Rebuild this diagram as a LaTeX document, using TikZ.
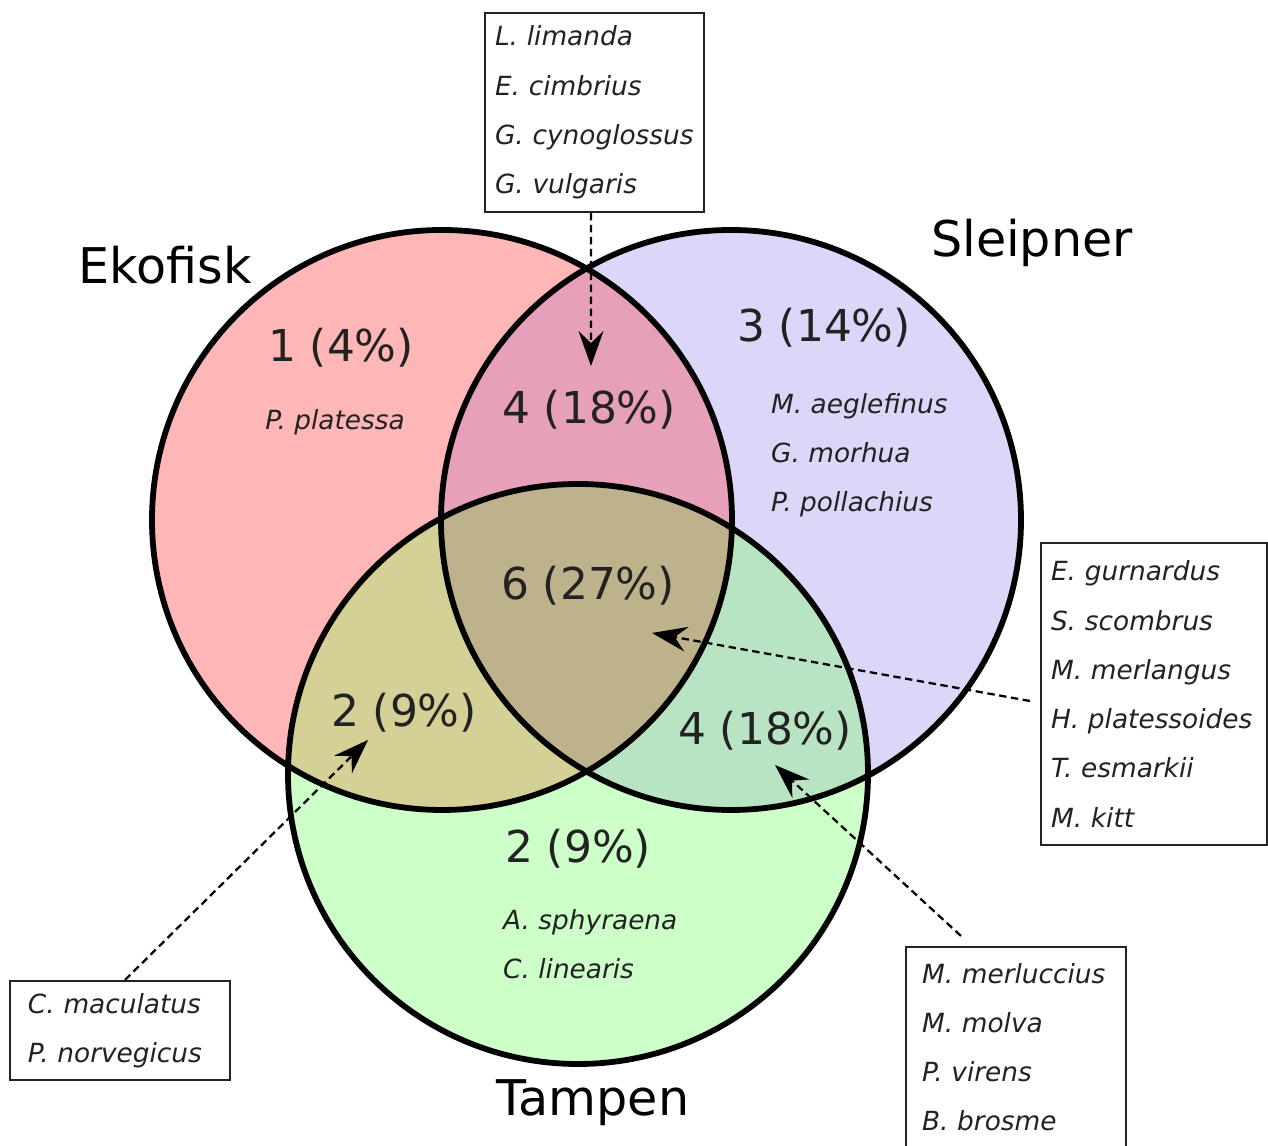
\documentclass[tikz,border=0pt]{standalone}
\usepackage{fontspec}
\setmainfont{DejaVu Sans}
\usetikzlibrary{arrows.meta}

\definecolor{ekored}{HTML}{FFB6B6}
\definecolor{sleipurple}{HTML}{DCD7F8}
\definecolor{tamgreen}{HTML}{CDFFC8}
\definecolor{ekosle}{HTML}{E6A0B9}
\definecolor{ekotam}{HTML}{D4D096}
\definecolor{sletam}{HTML}{B9E4C3}
\definecolor{allthree}{HTML}{BEB28C}
\definecolor{inkgray}{HTML}{222222}

\begin{document}
\begin{tikzpicture}[
    ring/.style={line width=3.3pt},
    species/.style={font=\fontsize{15}{28}\selectfont\itshape, align=left, text=inkgray},
    count/.style={font=\fontsize{25}{28}\selectfont, text=inkgray},
    site/.style={font=\fontsize{28}{32}\selectfont},
    listbox/.style={draw=inkgray, line width=1.2pt, species, inner ysep=0pt},
    pointer/.style={line width=1.3pt, dash pattern=on 4.2pt off 2.6pt,
        -{Stealth[length=7mm, width=5mm, inset=2.4mm]}}
]
    \useasboundingbox (0,0) rectangle (25.36,22.92);

    % circle centres
    \coordinate (eko) at (8.84,12.52);
    \coordinate (sle) at (14.62,12.52);
    \coordinate (tam) at (11.56,7.44);

    % fills
    \fill[ekored] (eko) circle (5.8);
    \fill[sleipurple] (sle) circle (5.8);
    \fill[tamgreen] (tam) circle (5.8);
    \begin{scope}
        \clip (eko) circle (5.8);
        \fill[ekosle] (sle) circle (5.8);
        \fill[ekotam] (tam) circle (5.8);
    \end{scope}
    \begin{scope}
        \clip (sle) circle (5.8);
        \fill[sletam] (tam) circle (5.8);
    \end{scope}
    \begin{scope}
        \clip (eko) circle (5.8);
        \clip (sle) circle (5.8);
        \fill[allthree] (tam) circle (5.8);
    \end{scope}

    % outlines
    \draw[ring] (eko) circle (5.8);
    \draw[ring] (sle) circle (5.8);
    \draw[ring] (tam) circle (5.8);

    % site names
    \node[site] (ekoname) at (3.3,17.62) {Ekofisk};
    \node[site] (slename) at (20.64,18.06) {Sleipner};
    \node[site] (tamname) at (11.86,0.86) {Tampen};

    % counts
    \node[count] (onlyeko) at (6.82,15.96) {1 (4\%)};
    \node[species] (onlyekosp) at (6.7,14.48) {P. platessa};
    \node[count] (ekosle) at (11.78,14.72) {4 (18\%)};
    \node[count] (onlysle) at (16.48,16.36) {3 (14\%)};
    \node[species, anchor=west] (onlyslesp) at (15.3,13.81) {M. aeglefinus\\G. morhua\\P. pollachius};
    \node[count] (all) at (11.76,11.2) {6 (27\%)};
    \node[count] (ekotam) at (8.08,8.66) {2 (9\%)};
    \node[count] (sletam) at (15.3,8.3) {4 (18\%)};
    \node[count] (onlytam) at (11.56,5.94) {2 (9\%)};
    \node[species, anchor=west] (onlytamsp) at (9.94,4.03) {A. sphyraena\\C. linearis};

    % species boxes
    \node[listbox, text width=3.98cm, inner xsep=0.2cm, minimum height=3.98cm] (topbox) at (11.89,20.67)
        {L. limanda\\E. cimbrius\\G. cynoglossus\\G. vulgaris};
    \node[listbox, text width=4.12cm, inner xsep=0.2cm, minimum height=6.04cm] (rightbox) at (23.08,9.04)
        {E. gurnardus\\S. scombrus\\M. merlangus\\H. platessoides\\T. esmarkii\\M. kitt};
    \node[listbox, text width=3.68cm, inner xsep=0.36cm, minimum height=1.98cm] (leftbox) at (2.4,2.31)
        {C. maculatus\\P. norvegicus};
    \node[listbox, text width=3.76cm, inner xsep=0.32cm, minimum height=4cm] (brbox) at (20.32,1.98)
        {M. merluccius\\M. molva\\P. virens\\B. brosme};

    % pointers
    \coordinate (tipes) at (11.82,15.6);
    \coordinate (tipall) at (13.04,10.26);
    \coordinate (tipet) at (7.36,8.12);
    \coordinate (tipst) at (15.5,7.62);
    \draw[pointer] ([xshift=-0.07cm]topbox.south) -- (tipes);
    \draw[pointer] ([xshift=-0.2cm,yshift=-0.14cm]rightbox.west) -- (tipall);
    \draw[pointer] ([xshift=0.1cm]leftbox.north) -- (tipet);
    \draw[pointer] ([xshift=1.12cm,yshift=0.2cm]brbox.north west) -- (tipst);
\end{tikzpicture}
\end{document}
